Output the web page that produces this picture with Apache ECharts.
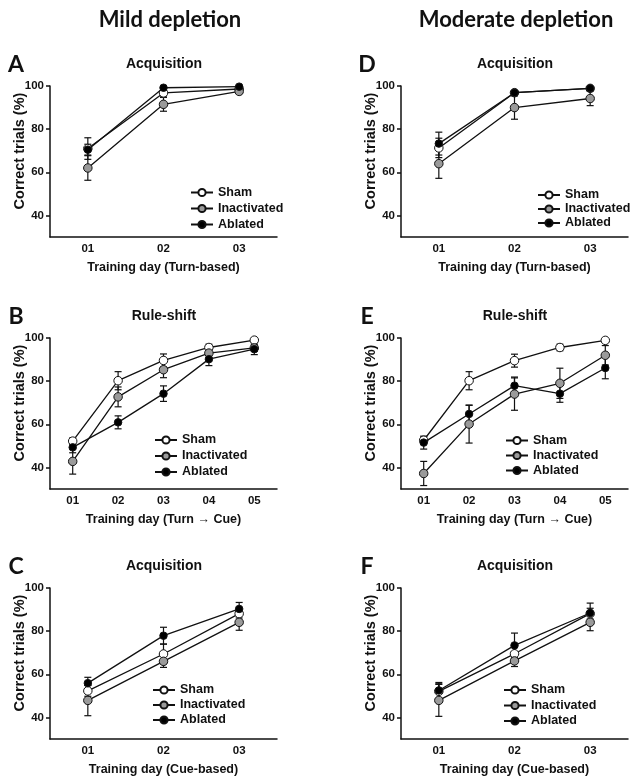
<!DOCTYPE html>
<html>
<head>
<meta charset="utf-8">
<title>Mild / moderate depletion</title>
<style>
html,body{margin:0;padding:0;background:#fff;}
#main{width:639px;height:784px;}
</style>
</head>
<body>
<div id="main"></div>
<script src="https://cdn.jsdelivr.net/npm/echarts@6/dist/echarts.min.js"></script>
<script>
// categories
var days3 = ['01', '02', '03'];
var days5 = ['01', '02', '03', '04', '05'];
var groups = ['Sham', 'Inactivated', 'Ablated'];
var yTicks = [40, 60, 80, 100];

// A - mild, acquisition (turn-based)
var shamA = [71, 96.8, 98.6],   shamA_sem = [5, 1.5, 1];
var inactA = [62, 91.5, 97.5],  inactA_sem = [5.7, 3.2, 1];
var ablA = [70.5, 99.2, 99.7],  ablA_sem = [2.5, 0.6, 0.4];
// B - mild, rule-shift
var shamB = [52.2, 80.2, 89.6, 95.6, 99],   shamB_sem = [1.5, 4.2, 3, 1.5, 0.6];
var inactB = [42.8, 72.7, 85.3, 93, 95.4],  inactB_sem = [5.9, 4.6, 3.7, 2, 1.5];
var ablB = [49.3, 60.9, 74.2, 90.2, 94.8],  ablB_sem = [2.5, 3, 3.6, 3, 2.5];
// C - mild, acquisition (cue-based)
var shamC = [52.3, 69.4, 88.1],  shamC_sem = [2.5, 4.6, 2];
var inactC = [47.9, 66, 84.1],   inactC_sem = [7.1, 2.8, 3.7];
var ablC = [55.9, 77.9, 90.3],   ablC_sem = [2.7, 3.9, 3];
// D - moderate, acquisition (turn-based)
var shamD = [71.3, 96.9, 98.9],  shamD_sem = [4.5, 1, 0.8];
var inactD = [64, 90, 94.2],     inactD_sem = [6.8, 5.4, 3.3];
var ablD = [73.3, 96.9, 98.9],   ablD_sem = [5.3, 0.8, 0.6];
// E - moderate, rule-shift
var shamE = [52.6, 80.2, 89.5, 95.6, 98.9],  shamE_sem = [1.5, 4.2, 3, 1.5, 0.8];
var inactE = [37.2, 60.1, 74, 79, 92],       inactE_sem = [5.6, 8.8, 7.5, 7, 4.5];
var ablE = [51.5, 64.8, 77.9, 74.2, 86.1],   ablE_sem = [3, 4, 4, 4, 5];
// F - moderate, acquisition (cue-based)
var shamF = [52.1, 69.5, 88.1],  shamF_sem = [3.5, 3, 2.5];
var inactF = [47.9, 66.2, 84.1], inactF_sem = [7.4, 2.6, 3.9];
var ablF = [52.5, 73.4, 88.4],   ablF_sem = [3.7, 5.7, 4.6];

var AX = '"Liberation Sans", Arial, sans-serif';
var HD = 'Lato, "Open Sans", sans-serif';
var INK = '#111';

// layout of the six panels
var panels = [
    {letter:'A', title:'Acquisition', xName:'Training day (Turn-based)', cats:days3,
     mean:[shamA, inactA, ablA], sem:[shamA_sem, inactA_sem, ablA_sem],
     left:50, top:86, lgLeft:190, lgTop:185.5, lgGap:2},
    {letter:'B', title:'Rule-shift', xName:'Training day (Turn \u2192 Cue)', cats:days5,
     mean:[shamB, inactB, ablB], sem:[shamB_sem, inactB_sem, ablB_sem],
     left:50, top:338, lgLeft:154, lgTop:433, lgGap:2},
    {letter:'C', title:'Acquisition', xName:'Training day (Cue-based)', cats:days3,
     mean:[shamC, inactC, ablC], sem:[shamC_sem, inactC_sem, ablC_sem],
     left:50, top:588, lgLeft:152, lgTop:683, lgGap:1},
    {letter:'D', title:'Acquisition', xName:'Training day (Turn-based)', cats:days3,
     mean:[shamD, inactD, ablD], sem:[shamD_sem, inactD_sem, ablD_sem],
     left:401, top:86, lgLeft:537, lgTop:188, lgGap:0},
    {letter:'E', title:'Rule-shift', xName:'Training day (Turn \u2192 Cue)', cats:days5,
     mean:[shamE, inactE, ablE], sem:[shamE_sem, inactE_sem, ablE_sem],
     left:401, top:338, lgLeft:505, lgTop:433.5, lgGap:1},
    {letter:'F', title:'Acquisition', xName:'Training day (Cue-based)', cats:days3,
     mean:[shamF, inactF, ablF], sem:[shamF_sem, inactF_sem, ablF_sem],
     left:401, top:588, lgLeft:503, lgTop:683, lgGap:1.5}
];
var PW = 227, PH = 151;

var marks = [
    {fill:'#ffffff', size:8.5},
    {fill:'#9a9a9a', size:8.5},
    {fill:'#000000', size:7.5}
];

function errorBar(params, api) {
    var i = api.value(0), m = api.value(1), e = api.value(2);
    var hi = api.coord([i, m + e]);
    var lo = api.coord([i, m - e]);
    var w = 3.5;
    var st = {stroke: INK, lineWidth: 1.2};
    return {type:'group', children:[
        {type:'line', shape:{x1:hi[0], y1:hi[1], x2:lo[0], y2:lo[1]}, style:st},
        {type:'line', shape:{x1:hi[0]-w, y1:hi[1], x2:hi[0]+w, y2:hi[1]}, style:st},
        {type:'line', shape:{x1:lo[0]-w, y1:lo[1], x2:lo[0]+w, y2:lo[1]}, style:st}
    ]};
}

var grid = [], xAxis = [], yAxis = [], series = [], legend = [], graphic = [];

graphic.push({type:'text', x:170, y:20, style:{text:'Mild depletion', font:'bold 22px ' + HD, fill:INK, textAlign:'center', textVerticalAlign:'middle'}});
graphic.push({type:'text', x:516, y:20, style:{text:'Moderate depletion', font:'bold 22px ' + HD, fill:INK, textAlign:'center', textVerticalAlign:'middle'}});

panels.forEach(function (p, k) {
    grid.push({left:p.left, top:p.top, width:PW, height:PH, containLabel:false});
    xAxis.push({
        type:'category', gridIndex:k, data:p.cats, boundaryGap:true,
        name:p.xName, nameLocation:'middle', nameGap:24,
        nameTextStyle:{color:INK, fontFamily:AX, fontWeight:'bold', fontSize:12.5},
        axisLine:{lineStyle:{color:INK, width:1.5}},
        axisTick:{alignWithLabel:true, length:4, lineStyle:{color:INK, width:1.5}},
        axisLabel:{color:INK, fontFamily:AX, fontWeight:'bold', fontSize:11.5, margin:6},
        splitLine:{show:false}
    });
    yAxis.push({
        type:'value', gridIndex:k, min:30, max:100,
        axisLine:{show:true, lineStyle:{color:INK, width:1.5}},
        axisTick:{show:true, length:4, customValues:yTicks, lineStyle:{color:INK, width:1.5}},
        axisLabel:{color:INK, fontFamily:AX, fontWeight:'bold', fontSize:11.5, margin:6, customValues:yTicks},
        splitLine:{show:false}
    });
    var cx = p.left + PW / 2 - 0.5;
    graphic.push({type:'text', x:p.left - 34, y:p.top - 21, style:{text:p.letter, font:'bold 23px ' + HD, fill:INK, textAlign:'center', textVerticalAlign:'middle'}});
    graphic.push({type:'text', x:cx + 1, y:p.top - 22, style:{text:p.title, font:'bold 14px ' + AX, fill:INK, textAlign:'center', textVerticalAlign:'middle'}});
    graphic.push({type:'text', x:p.left - 30, y:p.top + 65, rotation:Math.PI / 2,
        style:{text:'Correct trials (%)', font:'bold 14.5px ' + AX, fill:INK, textAlign:'center', textVerticalAlign:'middle'}});

    groups.forEach(function (g, j) {
        var eb = p.mean[j].map(function (v, i) { return [i, v, p.sem[j][i]]; });
        series.push({
            type:'custom', xAxisIndex:k, yAxisIndex:k, renderItem:errorBar,
            encode:{x:0, y:1}, data:eb, z:1, silent:true
        });
    });
    groups.forEach(function (g, j) {
        series.push({
            type:'line', name:g, xAxisIndex:k, yAxisIndex:k, data:p.mean[j],
            symbol:'circle', symbolSize:marks[j].size, showSymbol:true,
            lineStyle:{color:INK, width:1.3},
            itemStyle:{color:marks[j].fill, borderColor:INK, borderWidth:1},
            z:3 + j, animation:false
        });
    });
    legend.push({
        orient:'vertical', left:p.lgLeft, top:p.lgTop, padding:0,
        itemWidth:22, itemHeight:9, itemGap:p.lgGap, selectedMode:false,
        data:groups,
        textStyle:{color:INK, fontFamily:AX, fontWeight:'bold', fontSize:12.5, lineHeight:14}
    });
});

var chart = echarts.init(document.getElementById('main'));
chart.setOption({
    animation:false,
    backgroundColor:'#ffffff',
    grid:grid, xAxis:xAxis, yAxis:yAxis,
    legend:legend, series:series, graphic:graphic
});
</script>
</body>
</html>
